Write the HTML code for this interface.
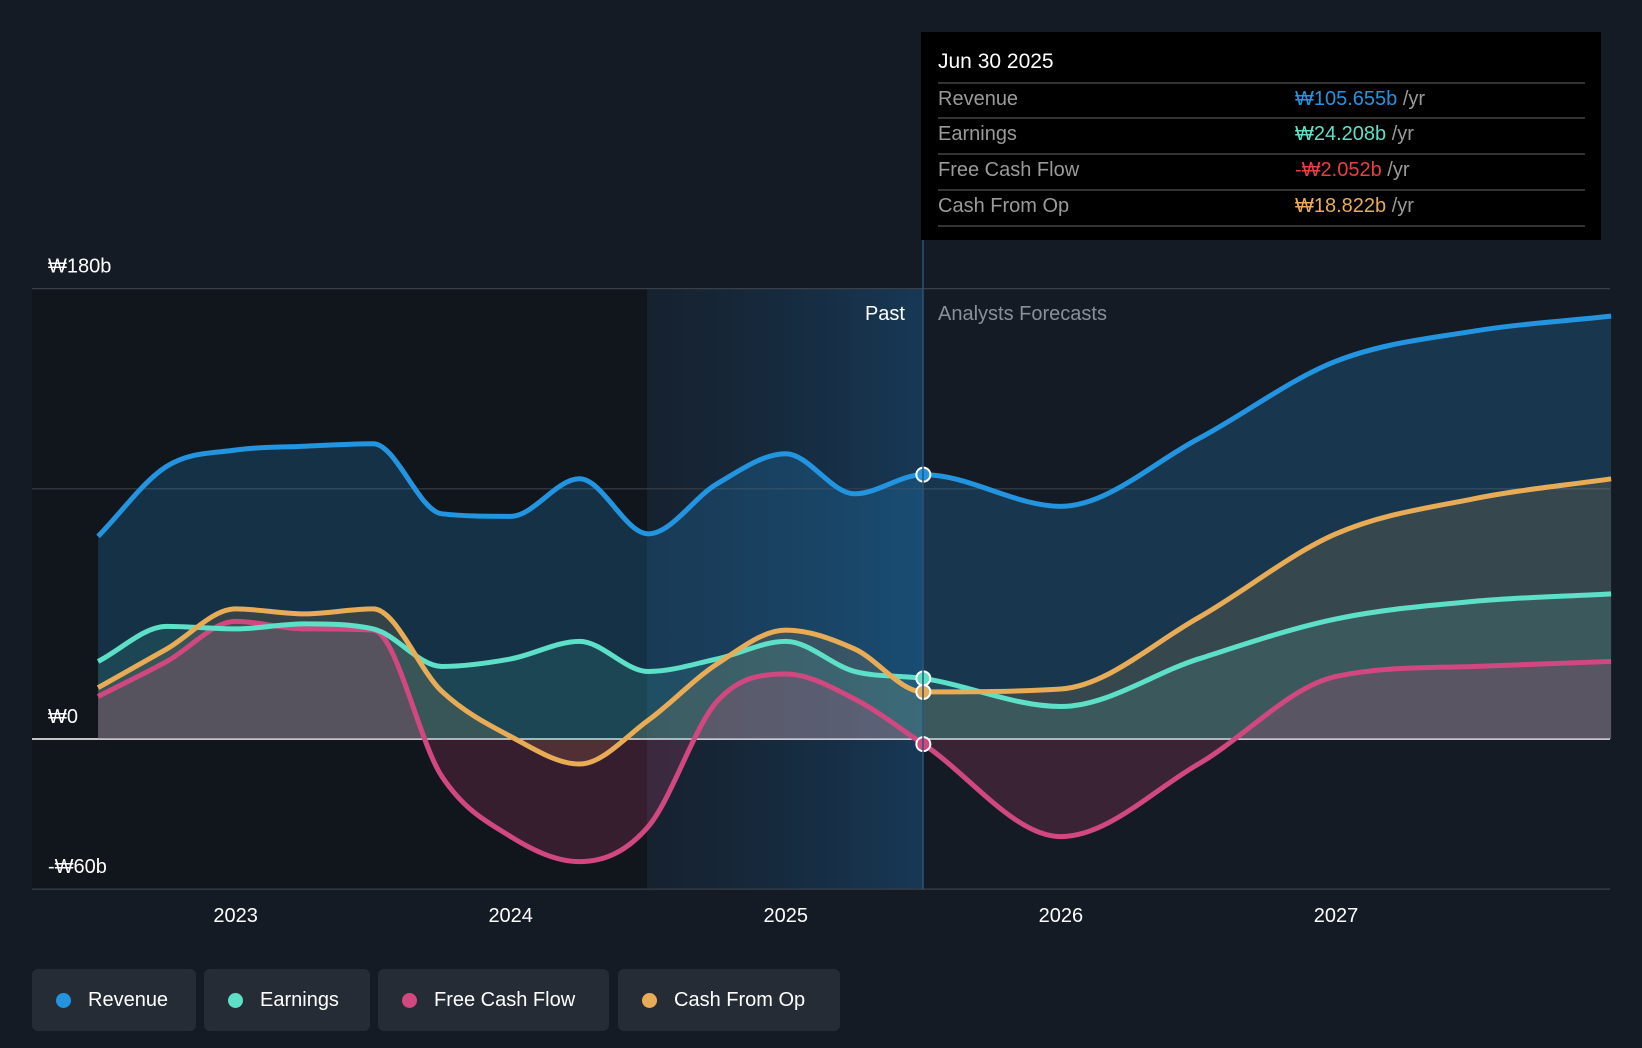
<!DOCTYPE html>
<html><head><meta charset="utf-8"><style>
body{margin:0;background:#151b24;width:1642px;height:1048px;overflow:hidden;font-family:"Liberation Sans",sans-serif}
.leg{position:absolute;top:969px;height:62px;background:#262c36;border-radius:6px;color:#fff;font-size:20px;display:flex;align-items:center;box-sizing:border-box;padding-left:56px}
.leg i{position:absolute;left:24px;top:24px;width:15px;height:15px;border-radius:50%}
</style></head><body>
<svg id="c" width="1642" height="1048" style="position:absolute;left:0;top:0">
<defs>
<linearGradient id="pb" x1="0" x2="1"><stop offset="0" stop-color="#173048" stop-opacity="0.3"/><stop offset="1" stop-color="#18456b" stop-opacity="0.7"/></linearGradient>
</defs>
<rect x="32" y="289" width="615" height="600" fill="#11151c"/>
<rect x="647" y="289" width="276" height="600" fill="url(#pb)"/>
<g id="grid"></g><g id="series"></g>
<line x1="923" y1="240" x2="923" y2="889" stroke="#2a5578" stroke-width="1.5"/>
<text x="905" y="320" fill="#fff" font-size="20" text-anchor="end">Past</text>
<text x="938" y="320" fill="#8a9099" font-size="20">Analysts Forecasts</text>
<g id="xt"></g>
</svg>
<div style="position:absolute;left:921px;top:32px;width:680px;height:208px;background:#000;font-size:20px">
<div style="position:absolute;left:17px;top:18px;color:#fff;font-size:21px">Jun 30 2025</div>
<div style="position:absolute;left:17px;right:16px;top:50px">
<div style="border-top:2px solid #333;height:33px;position:relative"><span style="position:absolute;left:0;top:4px;color:#9a9a9a">Revenue</span><span style="position:absolute;left:357px;top:4px;color:#2394e0">₩105.655b <span style="color:#9a9a9a">/yr</span></span></div>
<div style="border-top:2px solid #333;height:34px;position:relative"><span style="position:absolute;left:0;top:4px;color:#9a9a9a">Earnings</span><span style="position:absolute;left:357px;top:4px;color:#5ee0c8">₩24.208b <span style="color:#9a9a9a">/yr</span></span></div>
<div style="border-top:2px solid #333;height:34px;position:relative"><span style="position:absolute;left:0;top:4px;color:#9a9a9a">Free Cash Flow</span><span style="position:absolute;left:357px;top:4px;color:#e84040">-₩2.052b <span style="color:#9a9a9a">/yr</span></span></div>
<div style="border-top:2px solid #333;border-bottom:2px solid #333;height:34px;position:relative"><span style="position:absolute;left:0;top:4px;color:#9a9a9a">Cash From Op</span><span style="position:absolute;left:357px;top:4px;color:#e8ac56">₩18.822b <span style="color:#9a9a9a">/yr</span></span></div>
</div></div>
<div class="leg" style="left:32px;width:164px"><i style="background:#2394e0"></i>Revenue</div>
<div class="leg" style="left:204px;width:166px"><i style="background:#5ee0c8"></i>Earnings</div>
<div class="leg" style="left:378px;width:231px"><i style="background:#d0487f"></i>Free Cash Flow</div>
<div class="leg" style="left:618px;width:222px"><i style="background:#e8ac56"></i>Cash From Op</div>
<script>
const times=[2022.5,2022.75,2023,2023.25,2023.5,2023.75,2024,2024.25,2024.5,2024.75,2025,2025.25,2025.5,2026,2026.5,2027,2027.5,2028];
const revenue=[81,109,115.5,117,118,90,89,104,82,102,114,98,105.655,93,120,151,163,169];
const earnings=[31,45,44,46,44,29,32,39,27,32,39,27,24.208,13,32,48,55,58];
const fcf=[17,31,47,44,43.5,-15,-39,-49,-35,15,26,16,-2.052,-39,-10,25,29,31];
const cfo=[20.5,36,52,50,52,19,1,-10,7.5,30,43.5,36,18.822,20,48.5,82,96,104];
const yTicks=[180,100,0,-60];const yLabels=['₩180b','','₩0','-₩60b'];
const xTicks=[2023,2024,2025,2026,2027];
const X=t=>235.6+(t-2023)*275.1, Y=v=>739-v*2.502;
const ns='http://www.w3.org/2000/svg';
function mk(tag,at,p){const e=document.createElementNS(ns,tag);for(const k in at)e.setAttribute(k,at[k]);p.appendChild(e);return e;}
const g=document.getElementById('grid');
yTicks.forEach((v,i)=>{
 const l=mk('line',{x1:32,x2:1610,y1:Y(v),y2:Y(v),stroke:v===0?'#ffffff':'#3a3f48','stroke-width':v===0?1.5:1.2},g);
 
 
 if(yLabels[i]){const t=mk('text',{x:48,y:Y(v)-16,fill:'#fff','font-size':20},g);t.textContent=yLabels[i];
 
 }
});
const xt=document.getElementById('xt');
xTicks.forEach(v=>{const t=mk('text',{x:X(v),y:922,fill:'#fff','font-size':20,'text-anchor':'middle'},xt);t.textContent=v;
 
 });
function path(vals){const p=vals.map((v,i)=>[X(times[i]),Y(v)]);const n=p.length;
 const d=[],m=[];for(let i=0;i<n-1;i++)d.push((p[i+1][1]-p[i][1])/(p[i+1][0]-p[i][0]));
 for(let i=0;i<n;i++){if(i===0)m.push(d[0]);else if(i===n-1)m.push(d[n-2]);else m.push(d[i-1]*d[i]<=0?0:(d[i-1]+d[i])/2);}
 for(let i=0;i<n-1;i++){if(d[i]===0){m[i]=0;m[i+1]=0;continue;}const a=m[i]/d[i],b=m[i+1]/d[i],s=a*a+b*b;if(s>9){const t=3/Math.sqrt(s);m[i]=t*a*d[i];m[i+1]=t*b*d[i];}}
 let s='M'+p[0][0]+','+p[0][1];
 for(let i=0;i<n-1;i++){const h=(p[i+1][0]-p[i][0])/3;s+=` C${p[i][0]+h},${p[i][1]+m[i]*h} ${p[i+1][0]-h},${p[i+1][1]-m[i+1]*h} ${p[i+1][0]},${p[i+1][1]}`;}
 return s;}
const s=document.getElementById('series');
[[revenue,'#2394e0',0.22],[cfo,'#e8ac56',0.15],[earnings,'#5ee0c8',0.12],[fcf,'#d0487f',0.2]].forEach(([v,c,o])=>{
 const d=path(v)+` L${X(times[times.length-1])},${Y(0)} L${X(times[0])},${Y(0)} Z`;
 const a=mk('path',{d:d,fill:c,'fill-opacity':o},s);
 
 
});
[[fcf,'#d0487f','fcf-line'],[earnings,'#5ee0c8','earnings-line'],[cfo,'#e8ac56','cfo-line'],[revenue,'#2394e0','revenue-line']].forEach(([v,c,n])=>{
 const l=mk('path',{d:path(v),fill:'none',stroke:c,'stroke-width':5},s);
 
 
 const k=times.indexOf(2025.5);
 const m=mk('circle',{cx:X(times[k]),cy:Y(v[k]),r:7,fill:c,stroke:'#fff','stroke-width':2},s);
 
 
});
</script>
</body></html>
